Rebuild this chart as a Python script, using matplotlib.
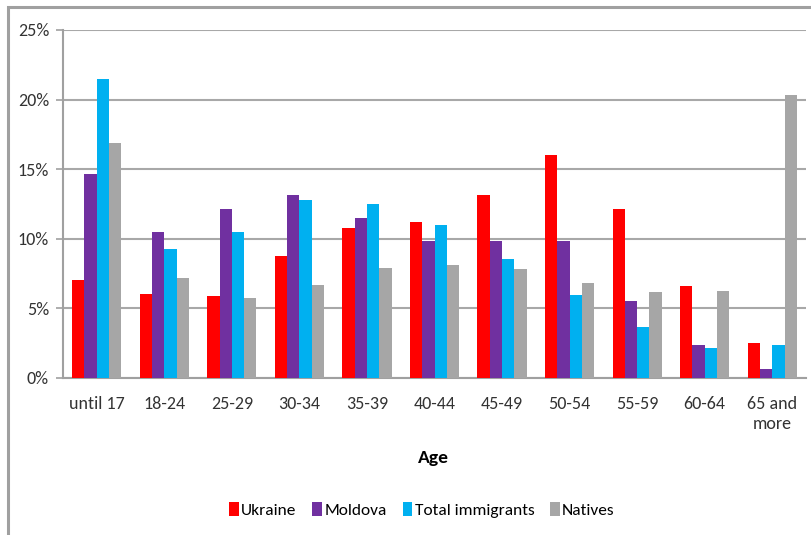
import matplotlib
matplotlib.use("Agg")
import matplotlib.pyplot as plt
from matplotlib.patches import Rectangle, Patch
import numpy as np

# data (percent)
categories = ["until 17", "18-24", "25-29", "30-34", "35-39", "40-44",
              "45-49", "50-54", "55-59", "60-64", "65 and\nmore"]
ukraine = [7.0, 6.0, 5.9, 8.75, 10.75, 11.2, 13.15, 16.0, 12.1, 6.6, 2.5]
moldova = [14.65, 10.45, 12.1, 13.15, 11.5, 9.85, 9.85, 9.85, 5.5, 2.35, 0.6]
total_immigrants = [21.45, 9.25, 10.45, 12.75, 12.5, 10.95, 8.55, 5.95, 3.65, 2.1, 2.35]
natives = [16.85, 7.15, 5.7, 6.7, 7.9, 8.1, 7.85, 6.8, 6.15, 6.25, 20.3]
series_names = ["Ukraine", "Moldova", "Total immigrants", "Natives"]
yticks = [0, 5, 10, 15, 20, 25]

colors = ["#FF0000", "#7030A0", "#00B0F0", "#A6A6A6"]
plt.rcParams['font.family'] = ['Carlito', 'DejaVu Sans']

W, H = 811, 535
fig = plt.figure(figsize=(W / 100, H / 100), dpi=100)
fig.patches.append(Rectangle((7.5 / W, -0.1), 1.2, 1 - 7.5 / H + 0.1, transform=fig.transFigure,
                             fill=False, edgecolor="#A0A0A0", linewidth=2.2))

ax = fig.add_axes([63 / W, (H - 377.7) / H, (806 - 63) / W, (377.7 - 30) / H])
x = np.arange(len(categories))
bw = 0.182
data = [ukraine, moldova, total_immigrants, natives]
for i, vals in enumerate(data):
    ax.bar(x + (i - 1.5) * bw, vals, bw, color=colors[i], label=series_names[i], zorder=3)

ax.set_xlim(-0.5, len(categories) - 0.5)
ax.set_ylim(0, 25)
ax.set_yticks(yticks)
ax.set_yticklabels([f"{t}%" for t in yticks], fontsize=13, color="#333333")
ax.set_xticks(x)
ax.set_xticklabels(categories, fontsize=13, color="#333333", linespacing=1.35)
ax.tick_params(axis="x", length=0, pad=13)
ax.tick_params(axis="y", length=5, width=1.2, color="#A0A0A0", pad=5)
ax.grid(axis="y", color="#A8A8A8", linewidth=1.5, zorder=0)
for s in ["top", "right"]:
    ax.spines[s].set_visible(False)
for s in ["left", "bottom"]:
    ax.spines[s].set_color("#A0A0A0")
    ax.spines[s].set_linewidth(1.5)

fig.text(433 / W, 1 - 458 / H, "Age", fontsize=14, fontweight="bold", ha="center", va="center")

handles = [Patch(facecolor=c, edgecolor="none") for c in colors]
fig.legend(handles, series_names, loc="center", bbox_to_anchor=(422 / W, 1 - 510 / H), ncol=4,
           frameon=False, fontsize=12.5, handlelength=0.55, handleheight=0.9,
           handletextpad=0.15, columnspacing=0.9)

fig.savefig("out.png", dpi=100)
